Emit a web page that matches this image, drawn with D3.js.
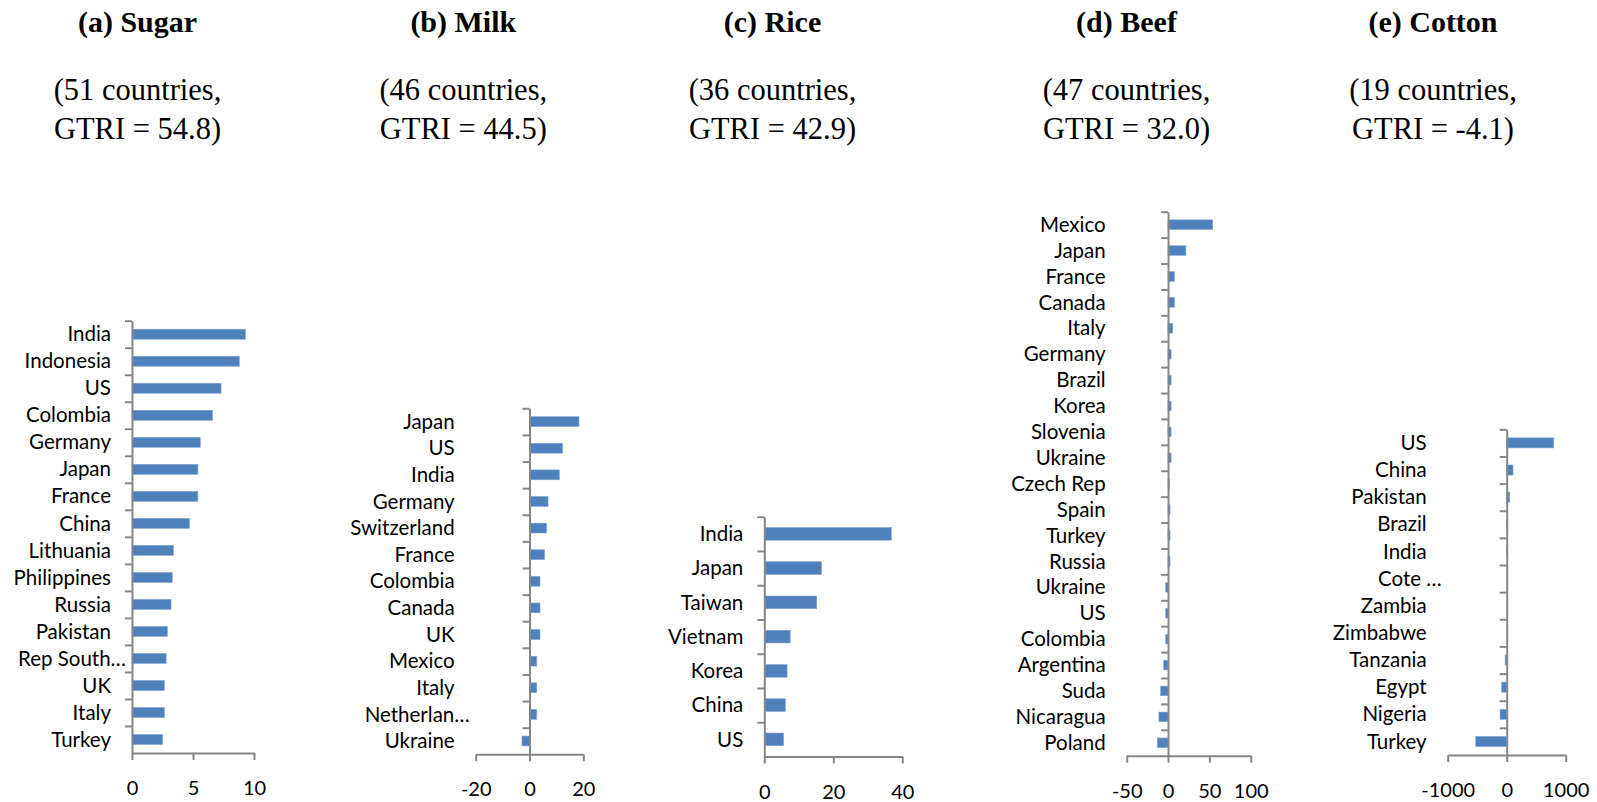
<!DOCTYPE html>
<html>
<head>
<meta charset="utf-8">
<script src="https://cdn.jsdelivr.net/npm/d3@7"></script>
<style>
  html, body { margin: 0; padding: 0; background: #fff; }
  svg { display: block; }
</style>
</head>
<body>
<svg id="chart" width="1597" height="802"></svg>
<script>
// ---------- DATA ----------
const panelTitles = ["(a) Sugar", "(b) Milk", "(c) Rice", "(d) Beef", "(e) Cotton"];
const panelSubtitle1 = ["(51 countries,", "(46 countries,", "(36 countries,", "(47 countries,", "(19 countries,"];
const panelSubtitle2 = ["GTRI = 54.8)", "GTRI = 44.5)", "GTRI = 42.9)", "GTRI = 32.0)", "GTRI = -4.1)"];

const sugarCountries = ["India", "Indonesia", "US", "Colombia", "Germany", "Japan", "France", "China",
  "Lithuania", "Philippines", "Russia", "Pakistan", "Rep South…", "UK", "Italy", "Turkey"];
const sugarValues = [9.3, 8.8, 7.3, 6.6, 5.6, 5.4, 5.4, 4.7, 3.4, 3.3, 3.2, 2.9, 2.8, 2.65, 2.65, 2.5];
const sugarTicks = [0, 5, 10];
const sugarDomain = [0, 10];

const milkCountries = ["Japan", "US", "India", "Germany", "Switzerland", "France", "Colombia", "Canada",
  "UK", "Mexico", "Italy", "Netherlan…", "Ukraine"];
const milkValues = [18.4, 12.3, 11.1, 6.9, 6.3, 5.6, 3.9, 3.9, 3.9, 2.7, 2.7, 2.7, -2.8];
const milkTicks = [-20, 0, 20];
const milkDomain = [-20, 20];

const riceCountries = ["India", "Japan", "Taiwan", "Vietnam", "Korea", "China", "US"];
const riceValues = [36.8, 16.6, 15.2, 7.5, 6.6, 6.1, 5.6];
const riceTicks = [0, 20, 40];
const riceDomain = [0, 40];

const beefCountries = ["Mexico", "Japan", "France", "Canada", "Italy", "Germany", "Brazil", "Korea",
  "Slovenia", "Ukraine", "Czech Rep", "Spain", "Turkey", "Russia", "Ukraine", "US", "Colombia",
  "Argentina", "Suda", "Nicaragua", "Poland"];
const beefValues = [54, 21.6, 7.7, 7.7, 5.7, 3.7, 3.7, 3.7, 3.7, 3.7, 2.0, 2.4, 2.4, 2.4,
  -2.8, -2.8, -2.8, -5.2, -8.9, -11, -13];
const beefTicks = [-50, 0, 50, 100];
const beefDomain = [-50, 100];

const cottonCountries = ["US", "China", "Pakistan", "Brazil", "India", "Cote …", "Zambia", "Zimbabwe",
  "Tanzania", "Egypt", "Nigeria", "Turkey"];
const cottonValues = [797, 107, 51, 2, 1, 0, 0, 0, -27, -85, -112, -525];
const cottonTicks = [-1000, 0, 1000];
const cottonDomain = [-1000, 1000];

// ---------- LAYOUT (positions only) ----------
const panels = [
  { cats: sugarCountries, vals: sugarValues, ticks: sugarTicks, domain: sugarDomain,
    x0: 132, x1: 254, top: 320.7, bottom: 753, cx: 137.5 },
  { cats: milkCountries, vals: milkValues, ticks: milkTicks, domain: milkDomain,
    x0: 475.7, x1: 583.3, top: 408.3, bottom: 754.3, cx: 463.3 },
  { cats: riceCountries, vals: riceValues, ticks: riceTicks, domain: riceDomain,
    x0: 764.3, x1: 902.3, top: 516.7, bottom: 756.5, cx: 772.5 },
  { cats: beefCountries, vals: beefValues, ticks: beefTicks, domain: beefDomain,
    x0: 1126.7, x1: 1250.7, top: 211.7, bottom: 755.7, cx: 1126.5 },
  { cats: cottonCountries, vals: cottonValues, ticks: cottonTicks, domain: cottonDomain,
    x0: 1447.7, x1: 1565.7, top: 429.3, bottom: 755, cx: 1433 }
];

const svg = d3.select("#chart");
const axisColor = "#868686";
const barColor = "#4F81BD";
const labelFont = "Lato, 'Open Sans', sans-serif";
const titleFont = "'Liberation Serif', 'DejaVu Serif', serif";

panels.forEach((p, i) => {
  const g = svg.append("g");

  // titles
  g.append("text").attr("x", p.cx).attr("y", 31.7).attr("text-anchor", "middle")
    .attr("font-family", titleFont).attr("font-weight", "bold").attr("font-size", 30)
    .attr("fill", "#000").text(panelTitles[i]);
  g.append("text").attr("x", p.cx).attr("y", 100).attr("text-anchor", "middle")
    .attr("font-family", titleFont).attr("font-size", 30.5).attr("fill", "#000").text(panelSubtitle1[i]);
  g.append("text").attr("x", p.cx).attr("y", 138.5).attr("text-anchor", "middle")
    .attr("font-family", titleFont).attr("font-size", 30.5).attr("fill", "#000").text(panelSubtitle2[i]);

  const x = d3.scaleLinear().domain(p.domain).range([p.x0, p.x1]);
  const y = d3.scaleBand().domain(d3.range(p.cats.length)).range([p.top, p.bottom])
    .paddingInner(0.63).paddingOuter(0.315);
  const yLin = d3.scaleLinear().domain([0, p.cats.length]).range([p.top, p.bottom]);

  // bars
  g.append("g").selectAll("rect").data(p.vals).join("rect")
    .attr("x", d => Math.min(x(0), x(d)))
    .attr("y", (d, j) => y(j))
    .attr("width", d => Math.abs(x(d) - x(0)))
    .attr("height", y.bandwidth())
    .attr("fill", barColor)
    .attr("stroke", "#7FA3D0")
    .attr("stroke-width", 0.6);

  // x axis
  const xAxis = d3.axisBottom(x).tickValues(p.ticks).tickSize(7).tickSizeOuter(0).tickPadding(21)
    .tickFormat(d => String(d));
  const gx = g.append("g").attr("transform", `translate(0,${p.bottom})`).call(xAxis);
  gx.select(".domain").attr("stroke", axisColor).attr("stroke-width", 2);
  gx.selectAll(".tick line").attr("stroke", axisColor).attr("stroke-width", 2);
  gx.selectAll(".tick text").attr("font-family", labelFont).attr("font-size", 20).attr("fill", "#000");

  // y axis at zero
  const yAxis = d3.axisLeft(yLin).tickValues(d3.range(p.cats.length)).tickSize(7).tickSizeOuter(0)
    .tickFormat("");
  const gy = g.append("g").attr("transform", `translate(${x(0)},0)`).call(yAxis);
  gy.select(".domain").attr("stroke", axisColor).attr("stroke-width", 2);
  gy.selectAll(".tick line").attr("stroke", axisColor).attr("stroke-width", 2);

  // category labels
  g.append("g").selectAll("text").data(p.cats).join("text")
    .attr("x", d => p.x0 - 21 + (d.includes("…") ? 15 : 0))
    .attr("y", (d, j) => y(j) + y.bandwidth() / 2)
    .attr("dy", "0.35em")
    .attr("text-anchor", "end")
    .attr("font-family", labelFont).attr("font-size", 20.5).attr("fill", "#000")
    .text(d => d);
});
</script>
</body>
</html>
